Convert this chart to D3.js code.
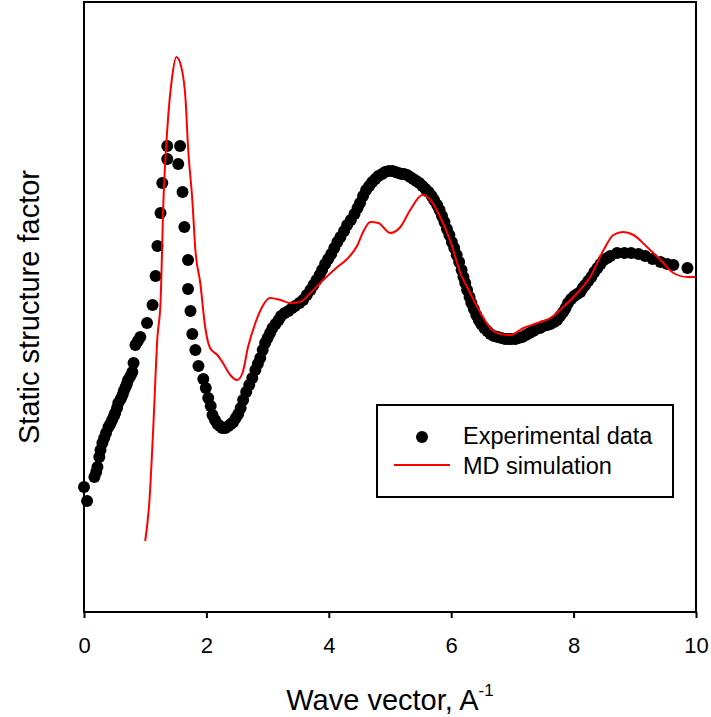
<!DOCTYPE html>
<html>
<head>
<meta charset="utf-8">
<script src="https://cdn.jsdelivr.net/npm/d3@7"></script>
<style>
  body { margin: 0; background: #fff; }
  text { font-family: Arial, "Liberation Sans", sans-serif; }
</style>
</head>
<body>
<svg id="chart" width="711" height="717"></svg>
<script>
// experimental S(q) (arbitrary units)
var expQ = [0.00, 0.05, 0.17, 0.20, 0.22, 0.25, 0.27, 0.30, 0.33, 0.36, 0.40, 0.43, 0.46, 0.49, 0.51, 0.54, 0.56, 0.60,
  0.63, 0.65, 0.68, 0.70, 0.72, 0.76, 0.79, 0.81, 0.84, 0.88, 0.92,
  1.03, 1.12, 1.17, 1.20, 1.25, 1.28, 1.36, 1.36, 1.57, 1.54, 1.61, 1.64, 1.70, 1.70, 1.74, 1.77, 1.82, 1.87, 1.95, 1.99,
  2.03, 2.07, 2.10, 2.14, 2.18, 2.22, 2.26, 2.31, 2.36, 2.40, 2.44, 2.48, 2.52, 2.56, 2.60, 2.65, 2.70, 2.75, 2.80, 2.84,
  2.88, 2.92, 2.96, 3.00, 3.04, 3.08, 3.13, 3.18, 3.22, 3.28, 3.34, 3.40, 3.45, 3.52, 3.58, 3.64, 3.70, 3.75,
  3.80, 3.85, 3.89, 3.94, 3.99, 4.04, 4.09, 4.14, 4.19, 4.25, 4.30, 4.36, 4.42, 4.47, 4.51, 4.56, 4.61, 4.66, 4.71, 4.76,
  4.81, 4.87, 4.92, 4.98, 5.04, 5.09, 5.14, 5.19, 5.23, 5.28, 5.33, 5.38, 5.43, 5.48, 5.53, 5.58, 5.63, 5.68,
  5.72, 5.77, 5.81, 5.85, 5.89, 5.93, 5.97, 6.01, 6.05, 6.09, 6.13, 6.17, 6.20, 6.23, 6.26, 6.30, 6.33, 6.37, 6.41, 6.45,
  6.49, 6.54, 6.59, 6.64, 6.70, 6.76, 6.82, 6.88, 6.93, 6.99, 7.05, 7.10, 7.16, 7.22, 7.28, 7.34, 7.39, 7.45,
  7.51, 7.57, 7.62, 7.68, 7.73, 7.78, 7.83, 7.87, 7.91, 7.96, 8.01, 8.06, 8.11, 8.15, 8.19, 8.24, 8.29, 8.34, 8.39, 8.44,
  8.49, 8.55, 8.60, 8.71, 8.83, 8.94, 9.06, 9.17, 9.29, 9.42, 9.53, 9.63, 9.86];
var expS = [0.625, 0.555, 0.675, 0.70, 0.725, 0.775, 0.81, 0.845, 0.87, 0.895, 0.925, 0.94, 0.96, 0.98, 0.995, 1.02, 1.045, 1.065,
  1.085, 1.105, 1.125, 1.14, 1.16, 1.18, 1.20, 1.245, 1.335, 1.355, 1.375,
  1.445, 1.535, 1.68, 1.83, 1.995, 2.145, 2.265, 2.33, 2.33, 2.24, 2.10, 1.925, 1.76, 1.615, 1.505, 1.39, 1.31, 1.23, 1.165, 1.12,
  1.07, 1.03, 0.985, 0.96, 0.94, 0.93, 0.92, 0.92, 0.93, 0.94, 0.95, 0.97, 0.99, 1.02, 1.06, 1.10, 1.135, 1.17, 1.21, 1.24,
  1.27, 1.31, 1.345, 1.37, 1.395, 1.42, 1.44, 1.46, 1.48, 1.495, 1.505, 1.52, 1.53, 1.545, 1.56, 1.585, 1.61, 1.635,
  1.66, 1.685, 1.71, 1.74, 1.765, 1.79, 1.82, 1.85, 1.875, 1.905, 1.935, 1.96, 1.99, 2.02, 2.045, 2.08, 2.11, 2.13, 2.15, 2.165,
  2.18, 2.19, 2.20, 2.205, 2.205, 2.20, 2.195, 2.19, 2.19, 2.185, 2.175, 2.165, 2.155, 2.145, 2.13, 2.115, 2.10, 2.08,
  2.06, 2.035, 2.01, 1.98, 1.95, 1.915, 1.885, 1.85, 1.82, 1.785, 1.75, 1.71, 1.675, 1.645, 1.61, 1.575, 1.545, 1.515, 1.485, 1.46,
  1.44, 1.42, 1.405, 1.39, 1.38, 1.375, 1.37, 1.365, 1.365, 1.365, 1.365, 1.37, 1.375, 1.385, 1.395, 1.405, 1.415, 1.42,
  1.43, 1.435, 1.44, 1.45, 1.46, 1.48, 1.50, 1.52, 1.545, 1.565, 1.58, 1.59, 1.60, 1.62, 1.635, 1.655, 1.675, 1.70, 1.72, 1.74,
  1.76, 1.77, 1.78, 1.795, 1.795, 1.795, 1.79, 1.78, 1.765, 1.75, 1.74, 1.735, 1.72];

// MD simulation curve
var mdQ = [1.00, 1.07, 1.13, 1.20, 1.25, 1.30, 1.36, 1.44, 1.51, 1.59, 1.66, 1.70, 1.77, 1.82, 1.90, 1.98, 2.06, 2.18,
  2.27, 2.39, 2.50, 2.59, 2.68, 2.80, 2.91, 3.04, 3.21, 3.37, 3.53, 3.70, 3.91, 4.14, 4.30, 4.47, 4.56, 4.68, 4.81,
  5.00, 5.17, 5.33, 5.53, 5.66, 5.82, 5.98, 6.15, 6.31, 6.48, 6.67, 6.80, 6.97, 7.18, 7.41, 7.62, 7.83, 8.06, 8.27,
  8.49, 8.65, 8.81, 8.98, 9.20, 9.42, 9.63, 9.86, 10.00];
var mdS = [0.355, 0.56, 0.91, 1.375, 1.545, 2.075, 2.41, 2.675, 2.775, 2.725, 2.56, 2.325, 2.06, 1.81, 1.645, 1.425, 1.32, 1.285,
  1.245, 1.185, 1.16, 1.195, 1.325, 1.445, 1.525, 1.57, 1.56, 1.545, 1.55, 1.595, 1.66, 1.725, 1.765, 1.835, 1.90, 1.95, 1.945,
  1.895, 1.925, 2.01, 2.085, 2.06, 1.975, 1.86, 1.695, 1.595, 1.495, 1.41, 1.39, 1.385, 1.42, 1.445, 1.47, 1.525, 1.595, 1.675,
  1.81, 1.885, 1.90, 1.885, 1.825, 1.76, 1.695, 1.675, 1.675];

var xTicks = [0, 2, 4, 6, 8, 10];
var seriesNames = ["Experimental data", "MD simulation"];

var margin = {top: 2, right: 15, bottom: 105, left: 84};
var svg = d3.select("#chart");
var W = +svg.attr("width") - margin.left - margin.right;
var H = +svg.attr("height") - margin.top - margin.bottom;

var g = svg.append("g").attr("transform", "translate(" + margin.left + "," + margin.top + ")");

var x = d3.scaleLinear().domain([0, 10]).range([0, W]);
var y = d3.scaleLinear().domain([0, 3.05]).range([H, 0]);

// experimental points
var expData = expQ.map(function (q, i) { return {q: q, s: expS[i]}; });
g.selectAll("circle.exp").data(expData).enter().append("circle")
  .attr("class", "exp")
  .attr("cx", d => x(d.q))
  .attr("cy", d => y(d.s))
  .attr("r", 6)
  .attr("fill", "#000");

// MD line
var mdData = mdQ.map(function (q, i) { return {q: q, s: mdS[i]}; });
var line = d3.line().x(d => x(d.q)).y(d => y(d.s)).curve(d3.curveMonotoneX);
g.append("path").datum(mdData)
  .attr("d", line)
  .attr("fill", "none")
  .attr("stroke", "#ff0000")
  .attr("stroke-width", 2);

// frame
g.append("rect").attr("x", 0).attr("y", 0).attr("width", W).attr("height", H)
  .attr("fill", "none").attr("stroke", "#000").attr("stroke-width", 2);

// bottom axis
var xAxis = g.append("g").attr("transform", "translate(0," + H + ")")
  .call(d3.axisBottom(x).tickValues(xTicks).tickSize(6).tickPadding(19).tickFormat(d3.format("d")));
xAxis.select(".domain").remove();
xAxis.selectAll("line").attr("stroke", "#000").attr("stroke-width", 2);
xAxis.selectAll("text").attr("font-size", 22).attr("fill", "#000")
  .style("font-family", "Arial, 'Liberation Sans', sans-serif");

// axis titles
var xt = svg.append("text")
  .attr("x", margin.left + W / 2)
  .attr("y", 710)
  .attr("text-anchor", "middle")
  .attr("font-size", 29)
  .attr("fill", "#000");
xt.append("tspan").text("Wave vector, A");
xt.append("tspan").attr("font-size", 17).attr("dy", -14).text("-1");

svg.append("text")
  .attr("transform", "translate(39," + (margin.top + H / 2) + ") rotate(-90)")
  .attr("text-anchor", "middle")
  .attr("font-size", 29)
  .attr("fill", "#000")
  .text("Static structure factor");

// legend
var lg = svg.append("g").attr("transform", "translate(377,405)");
lg.append("rect").attr("width", 296).attr("height", 92)
  .attr("fill", "#fff").attr("stroke", "#000").attr("stroke-width", 2);
lg.append("circle").attr("cx", 45).attr("cy", 32).attr("r", 6).attr("fill", "#000");
lg.append("line").attr("x1", 17).attr("x2", 73).attr("y1", 60).attr("y2", 60)
  .attr("stroke", "#ff0000").attr("stroke-width", 2);
lg.selectAll("text.lab").data(seriesNames).enter().append("text")
  .attr("class", "lab")
  .attr("x", 86)
  .attr("y", (d, i) => 39 + i * 30)
  .attr("font-size", 23.5)
  .attr("fill", "#000")
  .text(d => d);
</script>
</body>
</html>
